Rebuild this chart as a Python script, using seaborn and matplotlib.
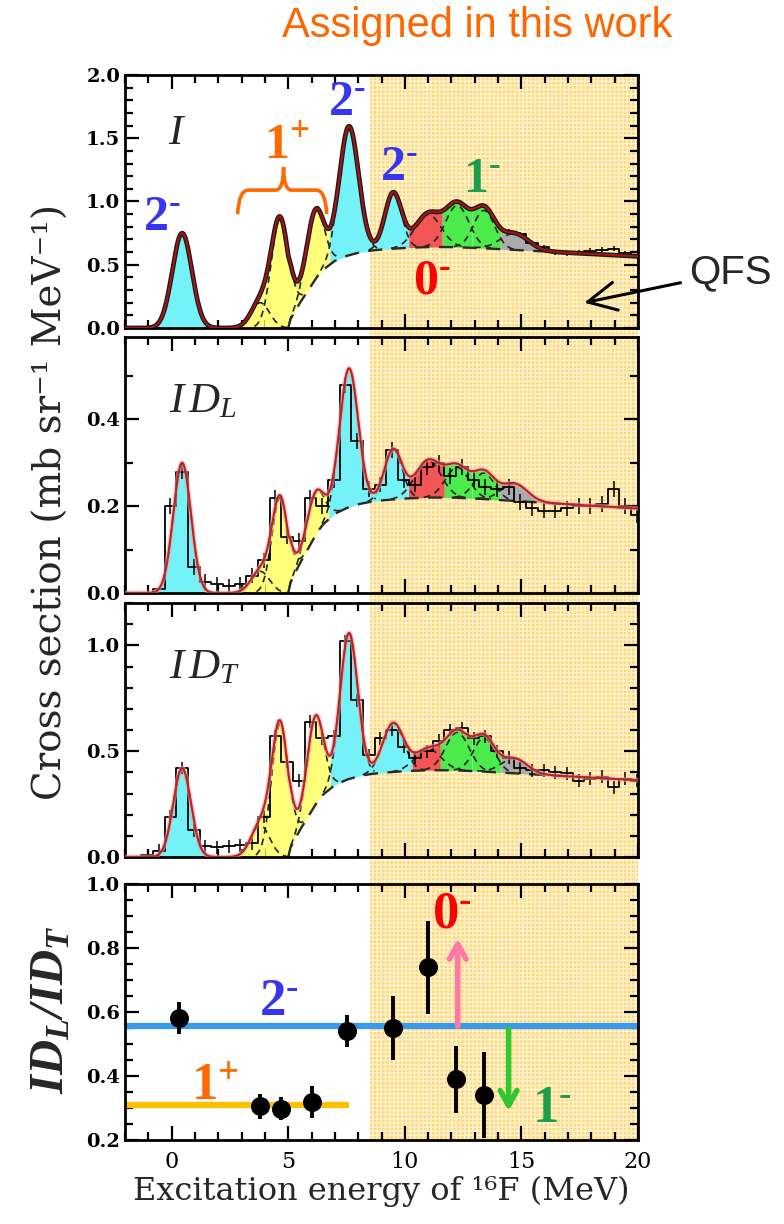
import numpy as np
import pandas as pd
import seaborn as sns
import matplotlib.pyplot as plt
from matplotlib.patches import Rectangle, PathPatch
from matplotlib.path import Path
from matplotlib.ticker import MultipleLocator
import matplotlib.patheffects as pe

# ---------------- data ----------------
# 0.5 MeV bins for the ID_L / ID_T spectra
bin_edges = np.arange(-1.8, 20.25, 0.5)

id_l_counts = [0.0, 0.0, 0.01, 0.20, 0.28, 0.06, 0.025, 0.02, 0.015, 0.02,
               0.04, 0.075, 0.22, 0.13, 0.12, 0.22, 0.20, 0.26, 0.48, 0.35,
               0.24, 0.25, 0.33, 0.26, 0.25, 0.29, 0.30, 0.27, 0.29, 0.26,
               0.245, 0.24, 0.245, 0.21, 0.195, 0.19, 0.19, 0.195, 0.20, 0.20,
               0.205, 0.24, 0.20, 0.18]
id_t_counts = [0.0, 0.01, 0.03, 0.19, 0.42, 0.126, 0.05, 0.045, 0.05, 0.055,
               0.065, 0.19, 0.57, 0.45, 0.36, 0.64, 0.56, 0.57, 1.02, 0.74,
               0.48, 0.56, 0.60, 0.52, 0.47, 0.50, 0.55, 0.60, 0.61, 0.56,
               0.57, 0.50, 0.47, 0.42, 0.41, 0.41, 0.40, 0.395, 0.36, 0.37,
               0.38, 0.33, 0.37, 0.36]
id_l_err = 0.018
id_t_err = 0.03

# high-energy tail of the I spectrum (fine-binned elsewhere, hidden by the fit)
i_tail_edges = np.arange(14.2, 20.25, 0.5)
i_tail_counts = [0.76, 0.74, 0.67, 0.64, 0.60, 0.59, 0.60, 0.61, 0.62, 0.625, 0.59, 0.565]

# fitted peaks: centroid (MeV) and colour class, amplitude / sigma per spectrum
peak_e = [0.45, 3.8, 4.65, 6.15, 7.6, 9.5, 11.0, 12.25, 13.4, 14.7]
peak_kind = ['2-', '1+', '1+', '1+', '2-', '2-', '0-', '1-', '1-', 'other']
amp_i = [0.75, 0.20, 0.86, 0.55, 1.02, 0.44, 0.26, 0.33, 0.30, 0.13]
sig_i = [0.42, 0.40, 0.38, 0.38, 0.42, 0.36, 0.55, 0.50, 0.45, 0.60]
amp_l = [0.30, 0.05, 0.22, 0.10, 0.32, 0.115, 0.085, 0.07, 0.06, 0.04]
sig_l = [0.38, 0.40, 0.35, 0.38, 0.40, 0.38, 0.55, 0.50, 0.45, 0.55]
amp_t = [0.42, 0.15, 0.63, 0.42, 0.69, 0.23, 0.10, 0.18, 0.16, 0.07]
sig_t = [0.38, 0.40, 0.36, 0.36, 0.38, 0.45, 0.55, 0.50, 0.45, 0.55]

# quasi-free scattering background shape, plateau height per spectrum
qfs_e = [5.0, 5.1, 5.25, 5.5, 5.75, 6.0, 6.25, 6.5, 7.0, 7.5, 8.0, 8.5, 9.0,
         10, 11, 12, 13, 14, 15, 16, 17, 18, 19, 20]
qfs_shape = [0, 0.11, 0.19, 0.31, 0.42, 0.53, 0.64, 0.72, 0.83, 0.89, 0.93, 0.955,
             0.97, 0.99, 1.0, 1.0, 0.99, 0.975, 0.96, 0.945, 0.93, 0.915, 0.9, 0.885]
qfs_height = [0.64, 0.22, 0.41]

# ID_L / ID_T ratio
ratio_e = [0.3, 3.8, 4.7, 6.0, 7.5, 9.5, 11.0, 12.2, 13.4]
ratio = [0.58, 0.305, 0.298, 0.318, 0.54, 0.55, 0.74, 0.39, 0.34]
ratio_err = [0.05, 0.04, 0.035, 0.05, 0.05, 0.10, 0.145, 0.105, 0.135]
level_2m = 0.556
level_1p = 0.31
level_1p_end = 7.6

assigned_from = 8.5

kind_fill = {'2-': '#75F2F7', '1+': '#FFFF7A', '0-': '#F25555', '1-': '#4CEB4C', 'other': '#ABABAB'}
c_blue, c_orange, c_red, c_green = '#3535F2', '#FF6A00', '#FF0000', '#1E9E48'

# ---------------- style ----------------
sns.set_theme(style='ticks')
plt.rcParams['font.family'] = ['DejaVu Serif']
plt.rcParams['mathtext.fontset'] = 'custom'
plt.rcParams['mathtext.rm'] = 'Liberation Serif:bold'
plt.rcParams['mathtext.it'] = 'Liberation Serif:italic'
plt.rcParams['mathtext.bf'] = 'Liberation Serif:bold:italic'
plt.rcParams['hatch.linewidth'] = 1.0

fig = plt.figure(figsize=(7.84, 12.24), dpi=100)
W, H = 784, 1224
left, right = 125, 638
rows = [(75, 328), (337, 593), (603, 857), (884, 1140)]
axes = [fig.add_axes([left / W, 1 - b / H, (right - left) / W, (b - t) / H]) for t, b in rows]

xg = np.linspace(-2, 20, 2201)


def style_axis(ax, ymax, major, minor, ymin=0.0):
    ax.set_facecolor('none')
    ax.set_xlim(-2, 20)
    ax.set_ylim(ymin, ymax)
    ax.xaxis.set_major_locator(MultipleLocator(5))
    ax.xaxis.set_minor_locator(MultipleLocator(1))
    ax.yaxis.set_major_locator(MultipleLocator(major))
    ax.yaxis.set_minor_locator(MultipleLocator(minor))
    ax.tick_params(which='both', direction='in', top=True, right=True, width=1.6, colors='black')
    ax.tick_params(which='major', length=10)
    ax.tick_params(which='minor', length=5.5)
    for s in ax.spines.values():
        s.set_linewidth(2.0)
        s.set_color('black')
    ax.set_xlabel('')
    ax.set_ylabel('')


def draw_spectrum(ax, amps, sigs, height, fine_fit):
    bg = height * np.interp(xg, qfs_e, qfs_shape, left=0.0)
    comps = np.array([a * np.exp(-0.5 * ((xg - e) / s) ** 2)
                      for e, a, s in zip(peak_e, amps, sigs)])
    total = bg + comps.sum(axis=0)
    dom = comps.argmax(axis=0)
    for i, kind in enumerate(peak_kind):
        ax.fill_between(xg, bg, total, where=dom == i, color=kind_fill[kind], lw=0, zorder=1)
    for i in range(len(peak_e)):
        g = comps[i]
        ax.plot(xg, np.where(g > 0.015 * amps[i], bg + g, np.nan), color='#222222',
                lw=1.2, ls=(0, (4, 3)), zorder=2)
    on = xg >= qfs_e[0]
    ax.plot(xg[on], bg[on], color='#2a2a2a', lw=1.7, ls=(0, (6, 4)), zorder=2)
    if fine_fit:
        sns.lineplot(x=xg, y=total, ax=ax, color='#A81414', lw=1.5, zorder=4, estimator=None,
                     path_effects=[pe.Stroke(linewidth=3.4, foreground='#1a1a1a'), pe.Normal()])
    else:
        sns.lineplot(x=xg, y=total, ax=ax, color='#B82424', lw=1.5, zorder=4, estimator=None,
                     path_effects=[pe.Stroke(linewidth=3.4, foreground='#F3A0A0', alpha=0.6), pe.Normal()])


def draw_hist(ax, edges, counts, err):
    edges = np.asarray(edges)
    centers = (edges[:-1] + edges[1:]) / 2
    df = pd.DataFrame({'e': centers, 'w': counts})
    sns.histplot(data=df, x='e', weights='w', bins=edges.tolist(), element='step', fill=False,
                 color='black', lw=1.3, ax=ax, zorder=3)
    counts = np.asarray(counts)
    m = counts > 0.012
    ax.errorbar(centers[m], counts[m], yerr=err, fmt='none', ecolor='black',
                elinewidth=1.1, capsize=0, zorder=3)


def spin(ax, x, y, txt, color, size=36):
    ax.text(x, y, txt, color=color, fontsize=size, ha='center', va='center', zorder=6)


def ylabels(ax, ticks):
    ax.set_yticks(ticks)
    ax.set_yticklabels([f'{t:.1f}' for t in ticks], fontweight='bold', fontsize=14)


minus = '^{\u2010}'
plus = '^{+}'

# ---------------- panel I ----------------
ax = axes[0]
draw_hist(ax, i_tail_edges, i_tail_counts, 0.02)
draw_spectrum(ax, amp_i, sig_i, qfs_height[0], True)
style_axis(ax, 2.0, 0.5, 0.1)
ylabels(ax, [0.0, 0.5, 1.0, 1.5, 2.0])
ax.text(-0.15, 1.55, r'$I$', fontsize=31, ha='left', va='center')
spin(ax, -0.4, 0.88, f'$2{minus}$', c_blue)
spin(ax, 4.95, 1.45, f'$1{plus}$', c_orange)
spin(ax, 7.5, 1.79, f'$2{minus}$', c_blue)
spin(ax, 9.75, 1.28, f'$2{minus}$', c_blue)
spin(ax, 13.3, 1.18, f'$1{minus}$', c_green)
spin(ax, 11.15, 0.38, f'$0{minus}$', c_red)
brace = Path([(2.83, 0.90), (2.88, 1.09), (3.3, 1.09), (4.45, 1.09), (4.8, 1.09), (4.8, 1.27),
              (4.8, 1.09), (5.15, 1.09), (6.2, 1.09), (6.6, 1.09), (6.65, 0.90)],
             [Path.MOVETO, Path.CURVE3, Path.CURVE3, Path.LINETO, Path.CURVE3, Path.CURVE3,
              Path.CURVE3, Path.CURVE3, Path.LINETO, Path.CURVE3, Path.CURVE3])
ax.add_patch(PathPatch(brace, fill=False, edgecolor=c_orange, lw=2.6, zorder=6))
ax.annotate('QFS', xy=(17.7, 0.2), xycoords='data', xytext=(1.10, 0.22),
            textcoords='axes fraction', ha='left', va='center', fontsize=29,
            family='Liberation Sans', annotation_clip=False,
            arrowprops=dict(arrowstyle='->,head_length=0.7,head_width=0.35', lw=2.2,
                            color='black', shrinkA=4, shrinkB=0))
ax.set_xticklabels([])

# ---------------- panel ID_L ----------------
ax = axes[1]
draw_hist(ax, bin_edges, id_l_counts, id_l_err)
draw_spectrum(ax, amp_l, sig_l, qfs_height[1], False)
style_axis(ax, 0.59, 0.2, 0.1)
ylabels(ax, [0.0, 0.2, 0.4])
ax.text(-0.1, 0.445, r'$I\,D_L$', fontsize=31, ha='left', va='center')
ax.set_xticklabels([])

# ---------------- panel ID_T ----------------
ax = axes[2]
draw_hist(ax, bin_edges, id_t_counts, id_t_err)
draw_spectrum(ax, amp_t, sig_t, qfs_height[2], False)
style_axis(ax, 1.2, 0.5, 0.1)
ylabels(ax, [0.0, 0.5, 1.0])
ax.text(-0.1, 0.9, r'$I\,D_T$', fontsize=31, ha='left', va='center')
ax.set_xticklabels([])

# ---------------- ratio panel ----------------
ax = axes[3]
ax.hlines(level_2m, -2, 20, color='#3A9AEA', lw=4.5, zorder=2)
ax.hlines(level_1p, -2, level_1p_end, color='#FFC000', lw=4.5, zorder=2)
ax.errorbar(ratio_e, ratio, yerr=ratio_err, fmt='none', ecolor='black', elinewidth=2.8,
            capsize=0, zorder=4)
sns.scatterplot(x=ratio_e, y=ratio, ax=ax, s=160, color='black', edgecolor='black',
                zorder=5, legend=False)
ax.annotate('', xy=(12.27, 0.83), xytext=(12.27, level_2m),
            arrowprops=dict(arrowstyle='->,head_length=0.9,head_width=0.5', lw=4,
                            color='#FF78A8', shrinkA=0, shrinkB=0), zorder=6)
ax.annotate('', xy=(14.45, 0.29), xytext=(14.45, level_2m - 0.01),
            arrowprops=dict(arrowstyle='->,head_length=0.9,head_width=0.5', lw=4,
                            color='#33C633', shrinkA=0, shrinkB=0), zorder=6)
spin(ax, 4.6, 0.635, f'$2{minus}$', c_blue, 38)
spin(ax, 1.85, 0.37, f'$1{plus}$', c_orange, 38)
spin(ax, 12.0, 0.91, f'$0{minus}$', c_red, 38)
spin(ax, 16.3, 0.30, f'$1{minus}$', c_green, 38)
style_axis(ax, 1.0, 0.2, 0.05, ymin=0.2)
ylabels(ax, [0.2, 0.4, 0.6, 0.8, 1.0])
ax.set_xticks([0, 5, 10, 15, 20])
ax.set_xticklabels(['0', '5', '10', '15', '20'], fontsize=16)
ax.tick_params(axis='x', pad=8)
ax.set_xlabel('Excitation energy of ¹⁶F (MeV)', fontsize=23, labelpad=2)

# ---------------- assigned region shading ----------------
to_fig = axes[3].transData + fig.transFigure.inverted()
fx0 = to_fig.transform((assigned_from, 0.2))[0]
fx1 = to_fig.transform((20, 0.2))[0]
fy0 = 1 - rows[3][1] / H
fy1 = 1 - rows[0][0] / H
fig.add_artist(Rectangle((fx0, fy0), fx1 - fx0, fy1 - fy0, transform=fig.transFigure,
                         facecolor='#FFD978', edgecolor='#FFF4D6', hatch='++++', lw=0,
                         zorder=-1))

fig.text(477 / W, 1 - 26 / H, 'Assigned in this work', color='#FF6600',
         fontsize=30, family='Liberation Sans', ha='center', va='center')
fig.text(0.066, 0.59, 'Cross section (mb sr⁻¹ MeV⁻¹)', rotation=90, fontsize=28,
         ha='center', va='center')
fig.text(0.064, 0.175, r'$\mathbf{ID_L/ID_T}$', rotation=90, fontsize=35,
         ha='center', va='center')

fig.savefig('out.png', dpi=100)
